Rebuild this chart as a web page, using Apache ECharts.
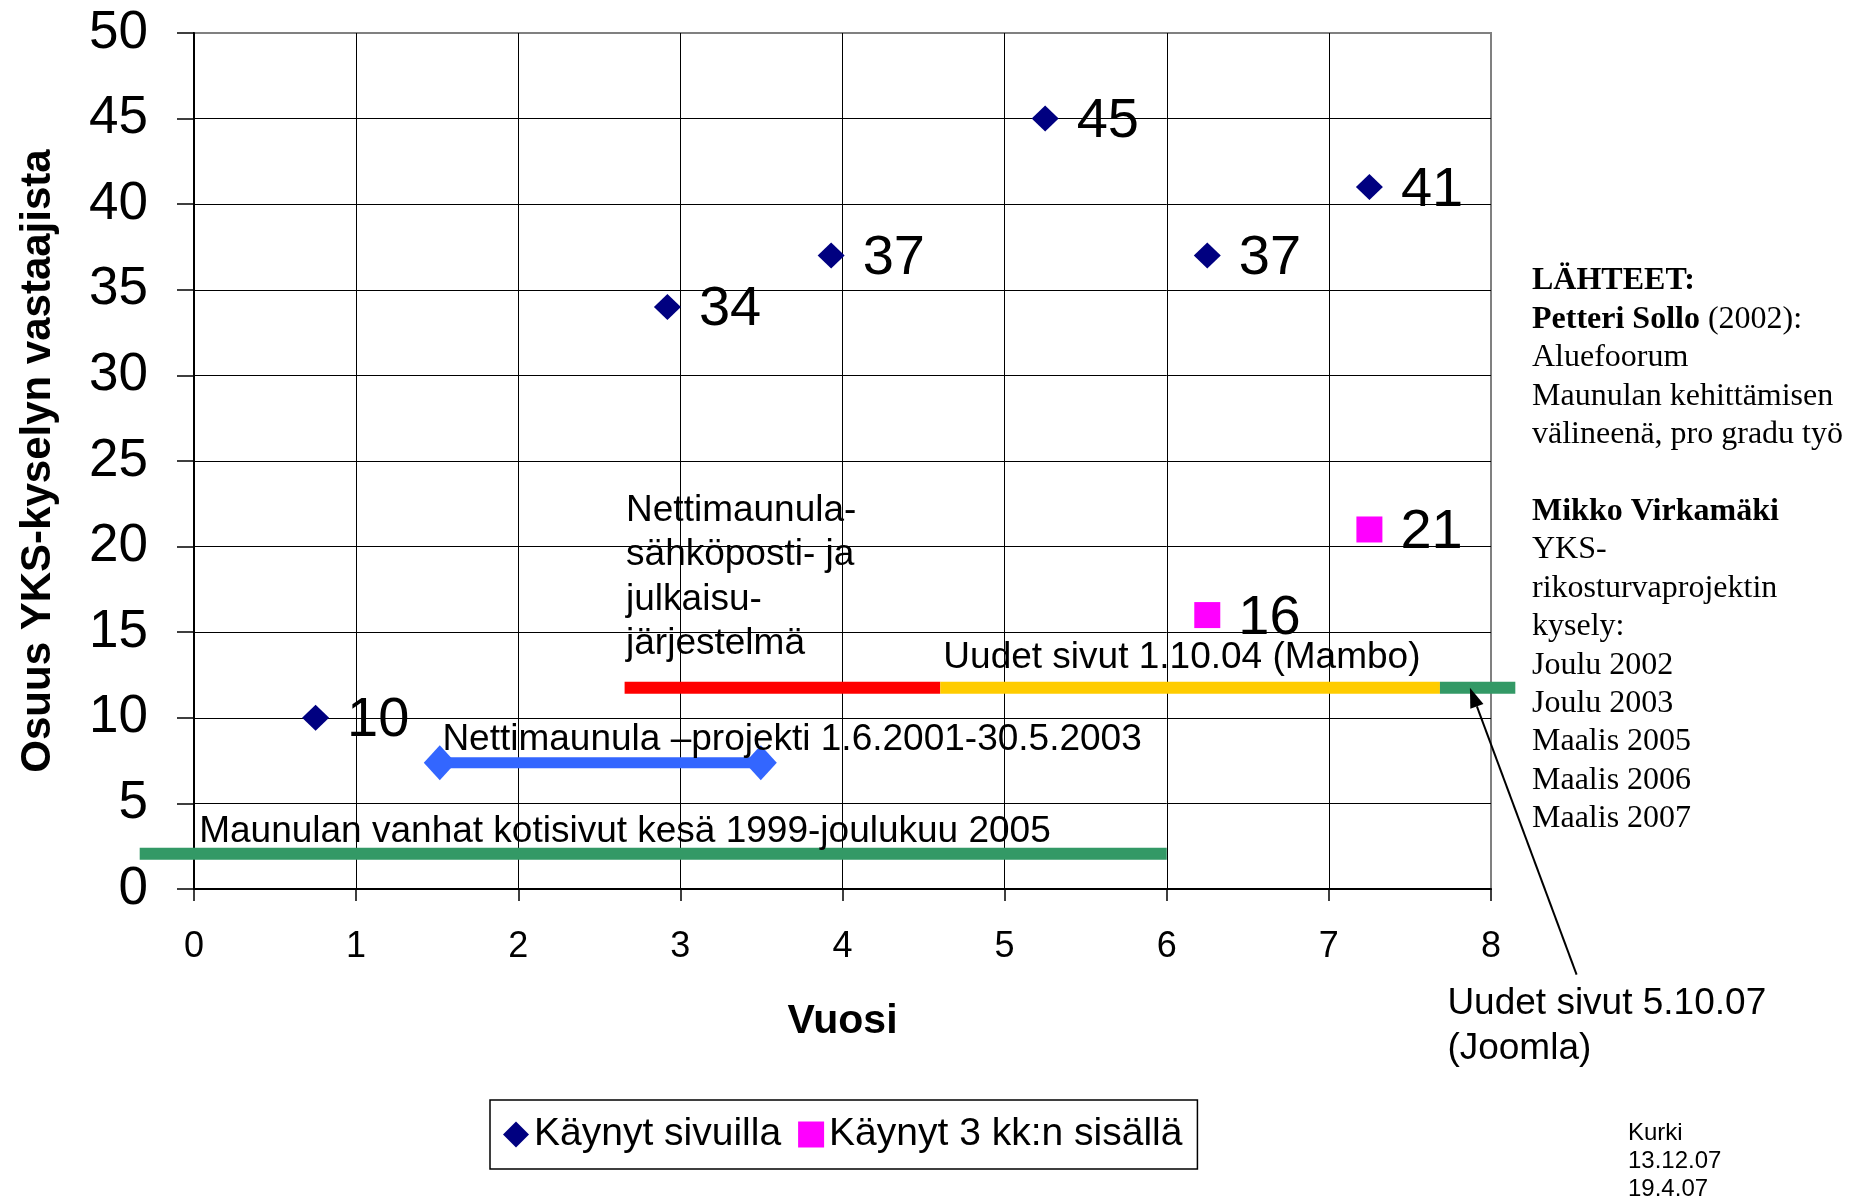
<!DOCTYPE html>
<html>
<head>
<meta charset="utf-8">
<script src="https://cdn.jsdelivr.net/npm/echarts@6/dist/echarts.min.js"></script>
<style>
  html, body { margin: 0; padding: 0; background: #fff; }
  #chart { width: 1861px; height: 1199px; }
</style>
</head>
<body>
<div id="chart"></div>
<script>
// kyselyt: vuosi (x) ja osuus vastaajista (y)
const visitX = [0.75, 2.92, 3.93, 5.25, 6.25, 7.25];
const visitY = [10, 34, 37, 45, 37, 41];
const recentX = [6.25, 7.25];
const recentY = [16, 21];

// aikajanat: [alku, loppu, korkeus]
const oldSiteBar = [-0.335, 6.0, 2.06];
const projectBar = [1.516, 3.496, 7.38];
const mailBar = [2.656, 4.603, 11.76];
const mamboBar = [4.603, 7.685, 11.76];
const joomlaBar = [7.685, 8.15, 11.76];
const barColors = ['#339966', '#ff0000', '#ffcc00', '#339966'];
// nuoli: [x1, y1, x2, y2]
const arrowLine = [8.528, -5.0, 7.87, 11.76];

// tekstit kuvassa
const annoText = [
  'Maunulan vanhat kotisivut kesä 1999-joulukuu 2005',
  'Nettimaunula \u2013projekti 1.6.2001-30.5.2003',
  'Nettimaunula-\nsähköposti- ja\njulkaisu-\njärjestelmä',
  'Uudet sivut 1.10.04 (Mambo)',
  'Uudet sivut 5.10.07\n(Joomla)'
];
const annoX = [0.032, 1.532, 2.665, 4.622, 7.731];
const annoY = [3.35, 8.7, 22.1, 13.5, -6.73];

const xTicks = { min: 0, max: 8, interval: 1 };
const yTicks = { min: 0, max: 50, interval: 5 };

const sans = '"Liberation Sans", Arial, sans-serif';
const serif = '"Liberation Serif", "Times New Roman", serif';
const LH = 44.5;

const chart = echarts.init(document.getElementById('chart'));
chart.setOption({
  animation: false,
  textStyle: { fontFamily: sans },
  grid: {
    left: 194, right: 370, top: 33, bottom: 310,
    show: true, borderColor: '#808080', borderWidth: 2
  },
  xAxis: {
    type: 'value',
    min: xTicks.min, max: xTicks.max, interval: xTicks.interval,
    name: 'Vuosi',
    nameLocation: 'middle',
    nameGap: 112,
    nameTextStyle: { fontSize: 41, fontWeight: 'bold', color: '#000', fontFamily: sans },
    axisLine: { lineStyle: { color: '#000', width: 2 } },
    axisTick: { length: 12, lineStyle: { color: '#000', width: 1.5 } },
    axisLabel: { fontSize: 36, color: '#000', margin: 40, fontFamily: sans },
    splitLine: { lineStyle: { color: ['#000', '#000', '#000', '#000', '#000', '#000', '#000', '#000', '#808080'], width: 1 } }
  },
  yAxis: {
    type: 'value',
    min: yTicks.min, max: yTicks.max, interval: yTicks.interval,
    name: 'Osuus YKS-kyselyn vastaajista',
    nameLocation: 'middle',
    nameGap: 135,
    nameTextStyle: { fontSize: 42, fontWeight: 'bold', color: '#000', fontFamily: sans },
    axisLine: { show: true, lineStyle: { color: '#000', width: 2 } },
    axisTick: { show: true, length: 17, lineStyle: { color: '#000', width: 1.5 } },
    axisLabel: { fontSize: 53, color: '#000', margin: 46, fontFamily: sans },
    splitLine: { lineStyle: { color: ['#000', '#000', '#000', '#000', '#000', '#000', '#000', '#000', '#000', '#000', '#808080'], width: 1 } }
  },
  legend: {
    data: ['Käynyt sivuilla', 'Käynyt 3 kk:n sisällä'],
    left: 490, top: 1100,
    orient: 'horizontal',
    padding: [15, 15, 15, 13],
    itemGap: 17,
    itemWidth: 26, itemHeight: 26,
    borderColor: '#000', borderWidth: 1.5,
    textStyle: { fontSize: 39, color: '#000', fontFamily: sans },
    selectedMode: false
  },
  series: [
    {
      type: 'custom',
      name: 'aikajanat',
      silent: true,
      z: 3,
      encode: { x: [0, 1], y: 2 },
      data: [oldSiteBar, mailBar, mamboBar, joomlaBar],
      renderItem: function (params, api) {
        const a = api.coord([api.value(0), api.value(2)]);
        const b = api.coord([api.value(1), api.value(2)]);
        return {
          type: 'rect',
          shape: { x: a[0], y: a[1] - 6, width: b[0] - a[0], height: 12 },
          style: { fill: barColors[params.dataIndex] }
        };
      }
    },
    {
      type: 'line',
      data: [[projectBar[0], projectBar[2]], [projectBar[1], projectBar[2]]],
      symbol: 'diamond',
      symbolSize: [32, 35],
      showSymbol: true,
      clip: false,
      silent: true,
      z: 3,
      itemStyle: { color: '#3366ff', opacity: 1 },
      lineStyle: { color: '#3366ff', width: 11, cap: 'butt' }
    },
    {
      type: 'custom',
      name: 'nuoli',
      silent: true,
      z: 4,
      encode: { x: [0, 2], y: [1, 3] },
      data: [arrowLine],
      renderItem: function (params, api) {
        const a = api.coord([api.value(0), api.value(1)]);
        const b = api.coord([api.value(2), api.value(3)]);
        const ang = Math.atan2(b[1] - a[1], b[0] - a[0]);
        const L = 20, W = 7;
        const base = [b[0] - L * Math.cos(ang), b[1] - L * Math.sin(ang)];
        const p1 = [base[0] + W * Math.sin(ang), base[1] - W * Math.cos(ang)];
        const p2 = [base[0] - W * Math.sin(ang), base[1] + W * Math.cos(ang)];
        return {
          type: 'group',
          children: [
            { type: 'line', shape: { x1: a[0], y1: a[1], x2: base[0], y2: base[1] }, style: { stroke: '#000', lineWidth: 2 } },
            { type: 'polygon', shape: { points: [b, p1, p2] }, style: { fill: '#000' } }
          ]
        };
      }
    },
    {
      type: 'custom',
      name: 'tekstit',
      silent: true,
      z: 5,
      encode: { x: 0, y: 1 },
      data: annoX.map((x, i) => [x, annoY[i]]),
      renderItem: function (params, api) {
        const p = api.coord([api.value(0), api.value(1)]);
        return {
          type: 'text',
          x: p[0],
          y: p[1] - LH / 2,
          style: {
            text: annoText[params.dataIndex],
            fill: '#000',
            fontSize: 37,
            fontFamily: sans,
            lineHeight: LH,
            align: 'left',
            verticalAlign: 'top'
          }
        };
      }
    },
    {
      name: 'Käynyt sivuilla',
      type: 'scatter',
      symbol: 'diamond',
      symbolSize: [27, 26],
      z: 6,
      itemStyle: { color: '#000080', opacity: 1 },
      data: visitX.map((x, i) => [x, visitY[i]]),
      label: {
        show: true, position: 'right', distance: 18, offset: [0, 3],
        formatter: p => p.value[1],
        fontSize: 56, color: '#000', fontFamily: sans
      }
    },
    {
      name: 'Käynyt 3 kk:n sisällä',
      type: 'scatter',
      symbol: 'rect',
      symbolSize: [26, 26],
      z: 6,
      itemStyle: { color: '#ff00ff', opacity: 1 },
      data: recentX.map((x, i) => [x, recentY[i]]),
      label: {
        show: true, position: 'right', distance: 18, offset: [0, 3],
        formatter: p => p.value[1],
        fontSize: 56, color: '#000', fontFamily: sans
      }
    }
  ],
  graphic: [
    {
      type: 'text',
      left: 1532, top: 262,
      style: {
        text: '{b|LÄHTEET:}\n{b|Petteri Sollo} (2002):\nAluefoorum\nMaunulan kehittämisen\nvälineenä, pro gradu työ\n\n{b|Mikko Virkamäki}\nYKS-\nrikosturvaprojektin\nkysely:\nJoulu 2002\nJoulu 2003\nMaalis 2005\nMaalis 2006\nMaalis 2007',
        fill: '#000',
        fontSize: 32,
        fontFamily: serif,
        lineHeight: 38.4,
        rich: {
          b: { fontWeight: 'bold', fontSize: 32, fontFamily: serif, lineHeight: 38.4, fill: '#000' }
        }
      }
    },
    {
      type: 'text',
      left: 1628, top: 1119,
      style: {
        text: 'Kurki\n13.12.07\n19.4.07',
        fill: '#000',
        fontSize: 24,
        fontFamily: sans,
        lineHeight: 28
      }
    }
  ]
});
</script>
</body>
</html>
